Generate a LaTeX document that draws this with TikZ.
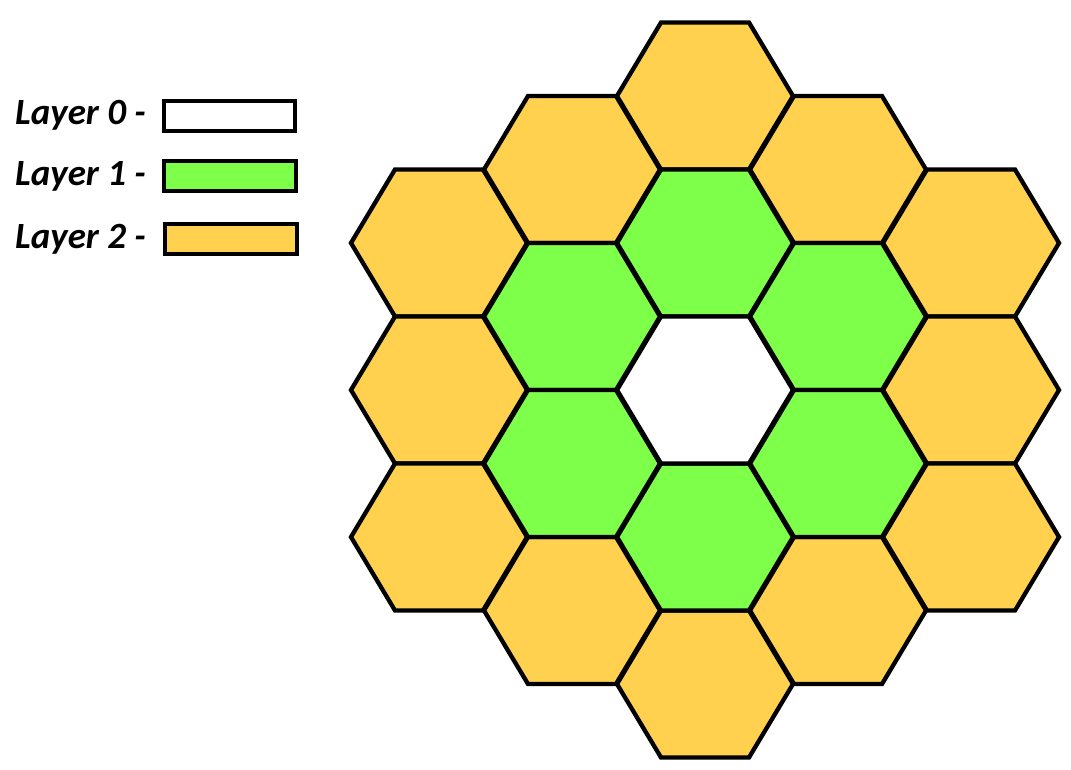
\documentclass[tikz,border=0pt]{standalone}
\usepackage{fontspec}
\setmainfont{Carlito}
\definecolor{layergreen}{RGB}{126,255,74}
\definecolor{layerorange}{RGB}{255,209,79}
\tikzset{
  hexcell/.style={draw=black, line width=4.3pt, line join=miter},
  legendbox/.style={draw=black, line width=4.3pt},
  legendtext/.style={anchor=base west, inner sep=0pt, font=\fontsize{37}{37}\selectfont\bfseries\itshape},
}
\newcommand{\hexat}[3]{%
  \draw[hexcell, fill=#3] (#1-88,#2) -- (#1-44,#2-73.5) -- (#1+44,#2-73.5) -- (#1+88,#2) -- (#1+44,#2+73.5) -- (#1-44,#2+73.5) -- cycle;}
\begin{document}
\begin{tikzpicture}[x=1pt,y=-1pt]
\useasboundingbox (0,0) rectangle (1071,770);
% layer 2
\foreach \cx/\cy in {705/96, 705/684, 572/169.5, 838/169.5, 572/610.5, 838/610.5, 439/243, 439/390, 439/537, 971/243, 971/390, 971/537}{
  \hexat{\cx}{\cy}{layerorange}
}
% layer 1
\foreach \cx/\cy in {705/243, 705/537, 572/316.5, 838/316.5, 572/463.5, 838/463.5}{
  \hexat{\cx}{\cy}{layergreen}
}
% layer 0
\hexat{705}{390}{white}
% legend
\node[legendtext] (t0) at (15,125) {Layer 0 -};
\node[legendtext] (t1) at (15,186) {Layer 1 -};
\node[legendtext] (t2) at (15,248) {Layer 2 -};
\draw[legendbox, fill=white] (164,101) rectangle (295,131);
\draw[legendbox, fill=layergreen] (164,161) rectangle (296,191);
\draw[legendbox, fill=layerorange] (165,224) rectangle (297,254);
\end{tikzpicture}
\end{document}
